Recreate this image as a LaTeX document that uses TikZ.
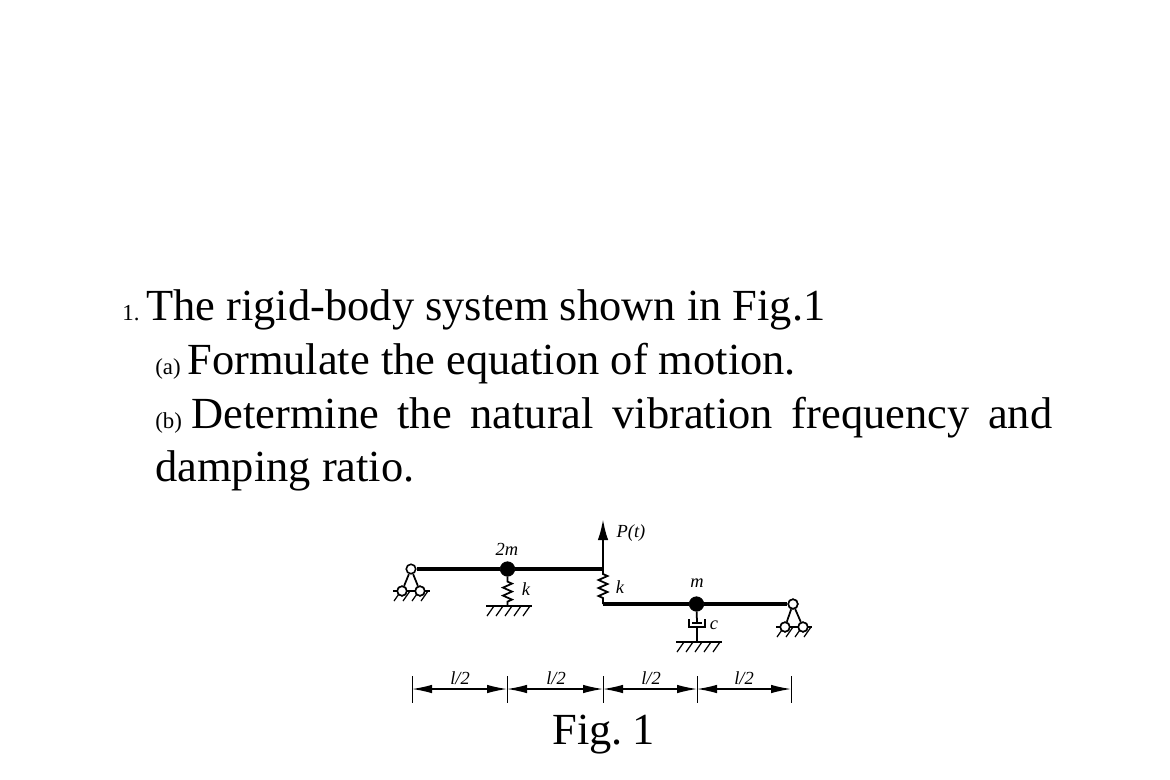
\documentclass[tikz,border=0pt]{standalone}
\usepackage{fontspec}
\setmainfont{Liberation Serif}
\usetikzlibrary{arrows.meta,decorations.pathmorphing}
\newcommand{\beamwidth}{1.8pt}
\newcommand{\bigsize}{\fontsize{25.3}{25.3}\selectfont}
\newcommand{\tinysize}{\fontsize{13}{13}\selectfont}
\newcommand{\labelsize}{\fontsize{10.5}{10.5}\selectfont\itshape}
\tikzset{
  beam/.style={line width=\beamwidth},
  thinline/.style={line width=1pt},
  massdot/.style={circle,fill=black,draw=black,inner sep=0pt,minimum size=0.29cm},
  hingept/.style={circle,fill=white,draw=black,line width=0.9pt,inner sep=0pt,minimum size=0.19cm},
  coilspring/.style={thinline,decorate,decoration={zigzag,amplitude=0.09cm,segment length=0.16cm,pre length=0.1cm,post length=0.08cm}},
  dimline/.style={line width=0.7pt,{Latex[length=0.4cm,width=0.17cm]}-{Latex[length=0.4cm,width=0.17cm]}},
  heading/.style={anchor=base west,inner sep=0pt},
  sublabel/.style={inner sep=0pt},
}
% ground line with its slanted strokes, from x1 to x2 at height y
\newcommand{\ground}[3]{
  \draw[line width=1.1pt] (#1,#3) -- (#2,#3);
  \pgfmathsetmacro{\hstart}{#1+8}
  \pgfmathsetmacro{\hnext}{#1+17}
  \pgfmathsetmacro{\hlast}{#2}
  \foreach \hx in {\hstart,\hnext,...,\hlast}
    \draw[line width=0.7pt] (\hx,#3) -- ++(-7,10);
}
\begin{document}
\begin{tikzpicture}[x=0.02cm,y=-0.02cm]
\useasboundingbox (0,0) rectangle (1170,779);
%text
\node[heading] (num) at (122,320) {\tinysize 1.};
\node[heading] (line1) at (146,320) {\bigsize The rigid-body system shown in Fig.1};
\node[heading] (parta) at (155,374) {\tinysize (a)};
\node[heading] (line2) at (187,374) {\bigsize Formulate the equation of motion.};
\node[heading] (partb) at (155,428) {\tinysize (b)};
\node[heading] (line3) at (191,428) {\bigsize\makebox[17.22cm][s]{Determine the natural vibration frequency and}};
\node[heading] (line4) at (155,481) {\bigsize damping ratio.};
%left beam
\node[hingept] (pinL) at (411,569) {};
\node[massdot] (massA) at (507.5,569) {};
\coordinate (step) at (603,569);
\coordinate (tip) at (603,519);
\draw[beam] (pinL) -- (massA);
\draw[beam] (massA) -- (step);
\draw[-{Latex[length=0.42cm,width=0.21cm]},line width=1.3pt] (step) -- (tip);
\node[sublabel,font=\labelsize] (load) at (631,533) {P(t)};
\node[sublabel,font=\labelsize] (labelA) at (507,549) {2m};
%left support
\node[hingept] (pinLa) at (402,591) {};
\node[hingept] (pinLb) at (420,591) {};
\ground{393}{430}{591}
\draw[thinline] (pinL) -- (pinLa);
\draw[thinline] (pinL) -- (pinLb);
\node[hingept] at (pinLa) {};
\node[hingept] at (pinLb) {};
%first spring
\coordinate (footA) at (507.5,606);
\draw[coilspring] (massA) -- (footA);
\ground{486}{532}{606}
\node[sublabel,font=\labelsize] (kA) at (526,589) {k};
%right beam
\coordinate (stepB) at (603,604);
\node[massdot] (massB) at (696.5,604) {};
\node[hingept] (pinR) at (793,604) {};
\draw[coilspring] (step) -- (stepB);
\draw[beam] (stepB) -- (massB);
\draw[beam] (massB) -- (pinR);
\node[sublabel,font=\labelsize] (kB) at (620,587) {k};
\node[sublabel,font=\labelsize] (labelB) at (697,583) {m};
%damper
\coordinate (pistonTop) at (697,623);
\coordinate (cupBottom) at (697,627);
\coordinate (footB) at (697,642);
\draw[thinline] (massB) -- (pistonTop);
\draw[thinline] (692,623) -- (702,623);
\draw[thinline] (689,619) -- (689,627) -- (705,627) -- (705,619);
\draw[thinline] (cupBottom) -- (footB);
\ground{676}{722}{642}
\node[sublabel,font=\labelsize] (cB) at (714,625) {c};
%right support
\node[hingept] (pinRa) at (785,627) {};
\node[hingept] (pinRb) at (803,627) {};
\ground{776}{812}{627}
\draw[thinline] (pinR) -- (pinRa);
\draw[thinline] (pinR) -- (pinRb);
\node[hingept] at (pinRa) {};
\node[hingept] at (pinRb) {};
\node[hingept] at (pinR) {};
%dimensions
\coordinate (d0) at (412,689);
\coordinate (d1) at (507,689);
\coordinate (d2) at (603,689);
\coordinate (d3) at (697,689);
\coordinate (d4) at (791,689);
\foreach \a/\b in {d0/d1,d1/d2,d2/d3,d3/d4}
  \draw[dimline] (\a) -- (\b);
\foreach \a in {d0,d1,d2,d3,d4}
  \draw[line width=0.5pt] ([yshift=0.26cm]\a) -- ([yshift=-0.28cm]\a);
\node[sublabel,font=\labelsize] (len1) at (460,678) {l/2};
\node[sublabel,font=\labelsize] (len2) at (556,678) {l/2};
\node[sublabel,font=\labelsize] (len3) at (651,678) {l/2};
\node[sublabel,font=\labelsize] (len4) at (744,678) {l/2};
\node[heading] (caption) at (552,744) {\bigsize Fig.\hspace{0.2cm}1};
\end{tikzpicture}
\end{document}
